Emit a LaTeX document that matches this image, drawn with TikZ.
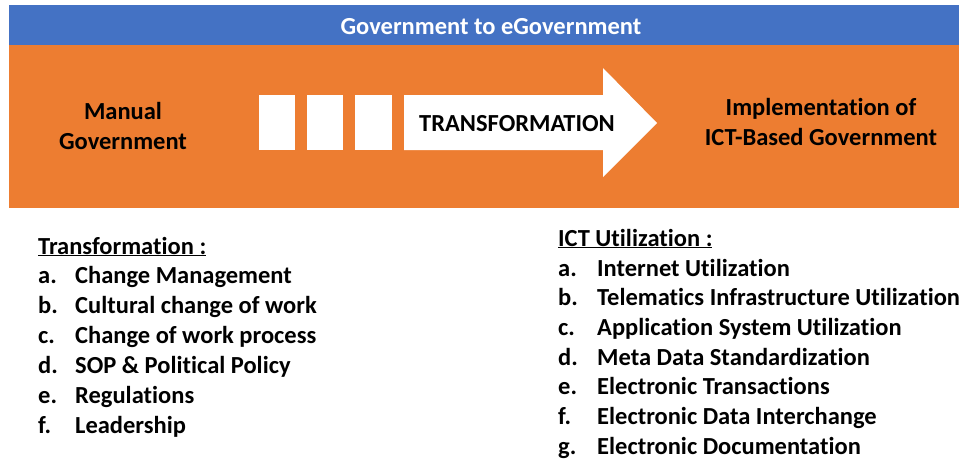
\documentclass[tikz,border=0pt]{standalone}
\usepackage{fontspec}
\setmainfont{Carlito}[Ligatures=NoCommon]
\definecolor{barblue}{HTML}{4472C4}
\definecolor{barorange}{HTML}{ED7D31}
\tikzset{
  txt/.style={inner sep=0pt, font=\bfseries\fontsize{24.5}{29.5}\selectfont},
  wtxt/.style={txt, text=white},
  ctr/.style={txt, align=center},
  lab/.style={txt, anchor=base west},
  whitebox/.style={fill=white, draw=none},
}
\begin{document}
\begin{tikzpicture}[x=1pt, y=-1pt]
\useasboundingbox (0,0) rectangle (959,459);
% bars
\fill[barblue] (9,5) rectangle (959,45);
\fill[barorange] (9,45) rectangle (959,208);
\node[wtxt, anchor=base] (title) at (491,34) {Government to eGovernment};
% boxes and arrow
\fill[whitebox] (259,95) rectangle (295,150);
\fill[whitebox] (307,95) rectangle (343,150);
\fill[whitebox] (355,95) rectangle (392,150);
\fill[whitebox] (404,95) -- (603,95) -- (603,68) -- (657,123) -- (603,177) -- (603,150) -- (404,150) -- cycle;
\node[txt, anchor=base] (trans) at (517,131) {TRANSFORMATION};
\node[ctr, anchor=base] (manual) at (123,149) {Manual\\Government};
\node[ctr, anchor=base] (impl) at (821,145) {Implementation of\\ICT-Based Government};
% left list
\node[lab] (lh) at (38,254) {\underline{Transformation :}};
\foreach \l/\t [count=\i from 0] in {a./Change Management, b./Cultural change of work, c./Change of work process, d./SOP \& Political Policy, e./Regulations, f./Leadership}{
  \node[lab] (ll\i) at (38,283+30*\i) {\l};
  \node[lab] (lt\i) at (75,283+30*\i) {\t};
}
% right list
\node[lab] (rh) at (558,246) {\underline{ICT Utilization :}};
\foreach \l/\t [count=\i from 0] in {a./Internet Utilization, b./Telematics Infrastructure Utilization, c./Application System Utilization, d./Meta Data Standardization, e./Electronic Transactions, f./Electronic Data Interchange, g./Electronic Documentation}{
  \node[lab] (rl\i) at (558,276+29.7*\i) {\l};
  \node[lab] (rt\i) at (597,276+29.7*\i) {\t};
}
\end{tikzpicture}
\end{document}
